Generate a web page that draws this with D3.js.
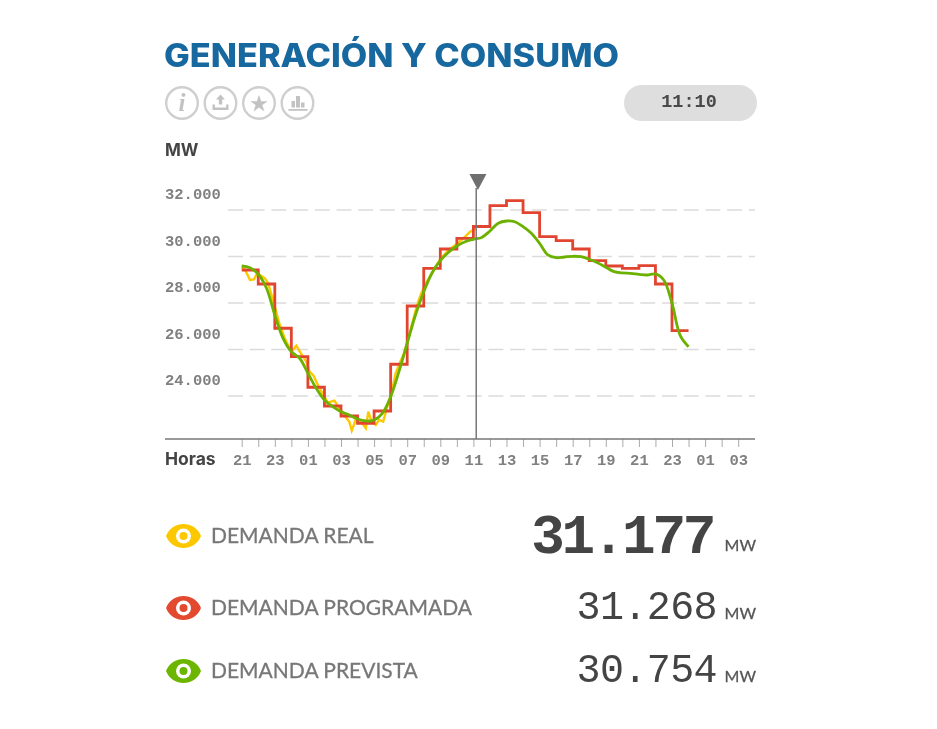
<!DOCTYPE html>
<html>
<head>
<meta charset="utf-8">
<script src="https://cdnjs.cloudflare.com/ajax/libs/d3/7.8.5/d3.min.js"></script>
<style>
  html, body { margin: 0; padding: 0; background: #fff; }
  svg { display: block; filter: blur(0.4px); }
  .sans { font-family: "Lato", sans-serif; }
  .mono { font-family: "Liberation Mono", monospace; }
</style>
</head>
<body>
<svg id="chart" width="937" height="729"></svg>
<script>
// hours counted from 21:00 of the previous day
var hourLabels = ["21","23","01","03","05","07","09","11","13","15","17","19","21","23","01","03"];
var gridValues = [24000, 26000, 28000, 30000, 32000];
var nowHour = 14.17; // 11:10

// programmed demand, one value per hour
var programadaValues = [29398,28797,26892,25670,24355,23550,23120,22807,23335,25344,27850,29472,30302,30762,31268,32163,32378,31862,30830,30658,30302,29798,29570,29472,29583,28797,26790,26790];

// forecast demand, one value every half hour
var previstaValues = [29570,29497,29214,28612,27464,26462,25885,25602,24957,24311,23808,23520,23305,23165,22992,22906,22949,23237,23950,25025,26247,27464,28465,29270,29798,30160,30430,30615,30719,30800,31075,31407,31505,31475,31260,30977,30547,30044,29927,29958,29988,29970,29859,29712,29515,29325,29270,29257,29214,29184,29227,28969,27967,26574,26100];

// real demand, irregular readings up to 11:10
var realHours = [0,.26,.5,.74,.94,1.4,1.6,2,2.3,2.6,2.9,3.1,3.3,3.55,3.9,4.1,4.35,4.6,4.9,5.2,5.6,5.9,6.25,6.5,6.65,6.9,7.2,7.5,7.65,7.85,8.1,8.3,8.55,8.8,9.05,9.3,9.55,9.8,10.05,10.3,10.6,10.85,11.15,11.98,12.5,13,13.5,13.8,14.17];
var realValues = [29542,29327,28969,28997,29255,29040,28825,27822,27034,26461,26031,25960,26146,25845,25458,25028,24842,24455,24068,23695,23781,23452,23094,22878,22491,22979,22878,22592,23308,22878,22735,22950,22878,23523,24097,24950,25400,25800,26400,27100,27900,28400,28850,29850,30259,30517,30833,31047,31177];

var legendNames = ["DEMANDA REAL", "DEMANDA PROGRAMADA", "DEMANDA PREVISTA"];
var legendValues = ["31.177", "31.268", "30.754"];
var legendColors = ["#fdc800", "#e2492e", "#6cb500"];

var svg = d3.select("#chart");

var xScale = d3.scaleLinear().domain([0, 30]).range([241.7, 738.2]);
var yScale = d3.scaleLinear().domain([32000, 22130]).range([209.5, 439]);

var fmt = d3.formatLocale({decimal: ",", thousands: ".", grouping: [3], currency: ["", ""]}).format(",d");

// title
svg.append("text")
  .attr("x", 164).attr("y", 67)
  .attr("textLength", 455).attr("lengthAdjust", "spacingAndGlyphs")
  .style("font-family", "Inter").style("font-size", "32px").style("font-weight", 800).style("fill", "#17689f")
  .text("GENERACIÓN Y CONSUMO");

// round buttons
var iconColor = "#c2c2c2";
var icons = svg.append("g");
[182, 220.5, 259, 297.5].forEach(function(cx) {
  icons.append("circle").attr("cx", cx).attr("cy", 103).attr("r", 15.8)
    .style("fill", "none").style("stroke", "#cfcfcf").style("stroke-width", 2.4);
});
icons.append("text").attr("x", 182).attr("y", 111).attr("text-anchor", "middle")
  .style("font-family", "Liberation Serif").style("font-style", "italic").style("font-weight", "bold")
  .style("font-size", "25px").style("fill", iconColor).text("i");
icons.append("path").attr("d", "M220.5 94.5l4.5 5h-2.8v5h-3.4v-5h-2.8zM212.5 104.5h2.4v3h11.2v-3h2.4v5.5h-16z").style("fill", iconColor);
icons.append("path").attr("d", d3.symbol().type(d3.symbolStar).size(95)()).attr("transform", "translate(259,104)").style("fill", iconColor);
icons.append("path").attr("d", "M291.5 101h3.5v6.5h-3.5zM296 96h4v11.5h-4zM301 102.5h3.5v5h-3.5zM288.5 109h19v1.8h-19z").style("fill", iconColor);

// clock pill
svg.append("rect").attr("x", 624).attr("y", 85).attr("width", 133).attr("height", 36).attr("rx", 18).style("fill", "#dedede");
svg.append("text").attr("class", "mono").attr("x", 689).attr("y", 107).attr("text-anchor", "middle")
  .style("font-size", "18.5px").style("font-weight", "bold").style("fill", "#4a4a4a").text("11:10");

svg.append("text").attr("x", 165).attr("y", 156)
  .style("font-family", "Inter").style("font-size", "17px").style("font-weight", 700).style("fill", "#444").text("MW");

// horizontal grid with labels sitting above the lines
var yAxis = d3.axisRight(yScale).tickValues(gridValues).tickSize(527).tickFormat(fmt);
var gy = svg.append("g").attr("transform", "translate(228,0)").call(yAxis);
gy.select(".domain").remove();
gy.selectAll("line").style("stroke", "#dcdcdc").style("stroke-width", 1.5).style("stroke-dasharray", "15,6.7");
gy.selectAll("text").attr("class", "mono")
  .attr("x", -63).attr("dy", -11).attr("text-anchor", "start")
  .style("font-size", "15.5px").style("font-family", "Liberation Mono").style("font-weight", "bold").style("fill", "#808080");

// hour axis
var tickHours = d3.range(0, 31);
var xAxis = d3.axisBottom(xScale).tickValues(tickHours).tickSize(8)
  .tickFormat(function(d) { return d % 2 == 0 ? hourLabels[d / 2] : ""; });
var gx = svg.append("g").attr("transform", "translate(0,439)").call(xAxis);
gx.select(".domain").remove();
gx.selectAll("line").style("stroke", "#aaa").style("stroke-width", 1);
gx.selectAll("text").attr("y", 15)
  .style("font-size", "15.5px").style("font-family", "Liberation Mono").style("font-weight", "bold").style("fill", "#808080");
svg.append("line").attr("x1", 165).attr("x2", 755).attr("y1", 439).attr("y2", 439)
  .style("stroke", "#777").style("stroke-width", 1.6);
svg.append("text").attr("x", 165).attr("y", 465)
  .style("font-family", "Inter").style("font-size", "17.5px").style("font-weight", 700).style("fill", "#444").text("Horas");

// series
var realLine = d3.line().x(function(d, i) { return xScale(realHours[i]); }).y(function(d) { return yScale(d); });
svg.append("path").datum(realValues).attr("d", realLine)
  .style("fill", "none").style("stroke", legendColors[0]).style("stroke-width", 2.4);

var programadaLine = d3.line().curve(d3.curveStepAfter)
  .x(function(d, i) { return xScale(i); }).y(function(d) { return yScale(d); });
svg.append("path").datum(programadaValues).attr("d", programadaLine)
  .style("fill", "none").style("stroke", "#e2452f").style("stroke-width", 2.8);

var previstaLine = d3.line().curve(d3.curveCatmullRom)
  .x(function(d, i) { return xScale(i / 2); }).y(function(d) { return yScale(d); });
svg.append("path").datum(previstaValues).attr("d", previstaLine)
  .style("fill", "none").style("stroke", "#6cb000").style("stroke-width", 2.8);

// current time marker
var nowX = xScale(nowHour);
svg.append("line").attr("x1", nowX).attr("x2", nowX).attr("y1", 188).attr("y2", 439)
  .style("stroke", "#777").style("stroke-width", 1.5);
svg.append("path").attr("d", "M" + (nowX - 6.8) + " 174h17l-8.5 16z").style("fill", "#6f6f6f");

// legend rows
var rowEye = [536, 608, 671];
var rowBase = [553, 619, 682];
var rowSize = [56, 40, 40];
var rowSpacing = [-3.3, -0.6, -0.6];
var rowRight = [713, 717, 717];
var row = svg.selectAll(".row").data(legendNames).enter().append("g").attr("class", "row");

row.append("path")
  .attr("d", function(d, i) { var c = rowEye[i]; return "M166 " + c + "C172 " + (c - 16) + " 195 " + (c - 16) + " 201 " + c + "C195 " + (c + 16) + " 172 " + (c + 16) + " 166 " + c + "Z"; })
  .style("fill", function(d, i) { return legendColors[i]; });
row.append("circle").attr("cx", 183.5).attr("cy", function(d, i) { return rowEye[i]; }).attr("r", 7.5).style("fill", "#fff");
row.append("circle").attr("cx", 183.5).attr("cy", function(d, i) { return rowEye[i]; }).attr("r", 4).style("fill", function(d, i) { return legendColors[i]; });

row.append("text").attr("class", "sans").attr("x", 211).attr("y", function(d, i) { return rowEye[i] + 7; })
  .style("font-size", "21px").style("fill", "#777").style("stroke", "#777").style("stroke-width", 0.3).text(function(d) { return d; });

row.append("text").attr("class", "mono").attr("x", function(d, i) { return rowRight[i]; }).attr("y", function(d, i) { return rowBase[i]; })
  .attr("text-anchor", "end")
  .style("font-size", function(d, i) { return rowSize[i] + "px"; })
  .style("letter-spacing", function(d, i) { return rowSpacing[i] + "px"; })
  .style("font-weight", function(d, i) { return i == 0 ? "bold" : "normal"; })
  .style("fill", "#444").text(function(d, i) { return legendValues[i]; });

row.append("text").attr("class", "sans").attr("x", 756).attr("y", function(d, i) { return i == 0 ? 551 : rowBase[i]; })
  .attr("text-anchor", "end").style("font-size", "16px").style("fill", "#555").style("stroke", "#555").style("stroke-width", 0.3).text("MW");
</script>
</body>
</html>
